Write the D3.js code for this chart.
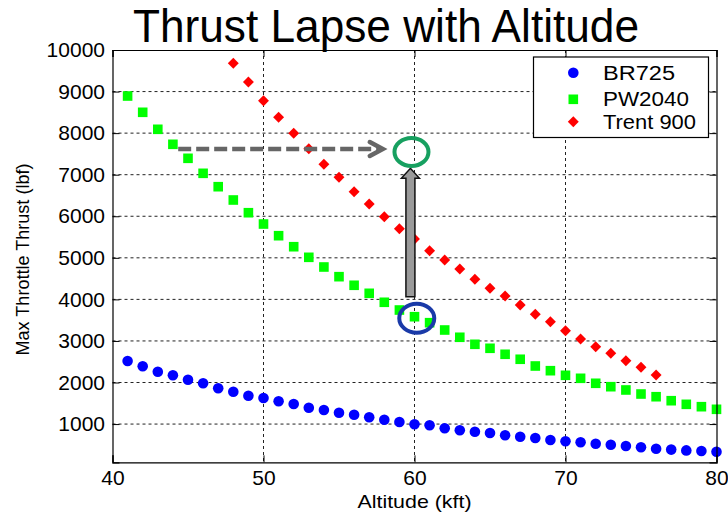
<!DOCTYPE html>
<html>
<head>
<meta charset="utf-8">
<script src="https://cdn.jsdelivr.net/npm/d3@7"></script>
<style>
  html, body { margin: 0; padding: 0; background: #fff; }
  svg { display: block; font-family: "Liberation Sans", Arial, Helvetica, sans-serif; }
</style>
</head>
<body>
<svg id="chart" width="728" height="512"></svg>
<script>
// ---- data ----
const chartTitle = "Thrust Lapse with Altitude";
const xLabel = "Altitude (kft)";
const yLabel = "Max Throttle Thrust (lbf)";
const xTicks = [40, 50, 60, 70, 80];
const yTicks = [1000, 2000, 3000, 4000, 5000, 6000, 7000, 8000, 9000, 10000];

const br725Alt = [41,42,43,44,45,46,47,48,49,50,51,52,53,54,55,56,57,58,59,60,
                  61,62,63,64,65,66,67,68,69,70,71,72,73,74,75,76,77,78,79,80];
const br725Thrust = [2517,2390,2260,2173,2067,1981,1860,1779,1682,1627,1548,1483,1394,1338,1273,1225,1163,1105,1050,997,
                     970,898,851,816,785,730,696,665,617,586,561,528,504,472,441,407,386,366,352,335];

const pw2040Alt = [41,42,43,44,45,46,47,48,49,50,51,52,53,54,55,56,57,58,59,60,
                   61,62,63,64,65,66,67,68,69,70,71,72,73,74,75,76,77,78,79,80];
const pw2040Thrust = [8893,8501,8092,7731,7394,7033,6711,6391,6085,5813,5532,5267,5012,4779,4546,4339,4146,3930,3744,3583,
                      3439,3263,3088,2919,2823,2679,2559,2397,2284,2173,2101,1981,1899,1820,1723,1658,1562,1475,1418,1355];

const trentAlt = [48,49,50,51,52,53,54,55,56,57,58,59,60,61,62,63,64,65,66,67,68,69,70,71,72,73,74,75,76];
const trentThrust = [9680,9230,8780,8381,7996,7625,7250,6937,6591,6295,5989,5700,5452,5169,4947,4731,4483,4266,4081,3865,
                     3641,3463,3246,3047,2861,2703,2524,2366,2180];

const seriesNames = ["BR725", "PW2040", "Trent 900"];
const seriesColors = ["#0000ff", "#00ff00", "#ff0000"];

// annotation anchors (data units)
const dashArrow = { x0: 44.35, x1: 57.9, y: 7618 };
const upArrow = { x: 59.73, y0: 4064, y1: 7154 };
const greenRing = { x: 59.8, y: 7546 };
const blueRing = { x: 60.15, y: 3545 };

// ---- layout ----
const svg = d3.select("#chart");
const L = 112.5, R = 716.5, T = 50, B = 462.3;
const x = d3.scaleLinear().domain([40, 80]).range([L, R]);
const y = d3.scaleLinear().domain([80, 10000]).range([B, T]);

// grid
const grid = svg.append("g");
grid.selectAll("line.gx").data(xTicks.filter(d => d > 40 && d < 80)).join("line")
  .attr("x1", d => x(d)).attr("x2", d => x(d)).attr("y1", T).attr("y2", B)
  .attr("stroke", "#222").attr("stroke-width", 1).attr("stroke-dasharray", "3,3");
grid.selectAll("line.gy").data(yTicks.filter(d => d < 10000)).join("line")
  .attr("x1", L).attr("x2", R).attr("y1", d => y(d)).attr("y2", d => y(d))
  .attr("stroke", "#222").attr("stroke-width", 1).attr("stroke-dasharray", "3,3");

// series markers
const mk = svg.append("g");
mk.selectAll("circle").data(br725Alt.map((a, i) => [a, br725Thrust[i]])).join("circle")
  .attr("cx", d => x(d[0])).attr("cy", d => y(d[1])).attr("r", 5.3)
  .attr("fill", seriesColors[0]);
const sq = 9.6;
mk.selectAll("rect").data(pw2040Alt.map((a, i) => [a, pw2040Thrust[i]])).join("rect")
  .attr("x", d => x(d[0]) - sq / 2).attr("y", d => y(d[1]) - sq / 2)
  .attr("width", sq).attr("height", sq).attr("fill", seriesColors[1]);
const diamond = d3.symbol().type(d3.symbolDiamond2).size(76);
mk.selectAll("path").data(trentAlt.map((a, i) => [a, trentThrust[i]])).join("path")
  .attr("d", diamond)
  .attr("transform", d => `translate(${x(d[0])},${y(d[1])})`)
  .attr("fill", seriesColors[2]);

// annotations
const ann = svg.append("g");
const dy0 = y(dashArrow.y);
ann.append("line")
  .attr("x1", x(dashArrow.x0)).attr("x2", x(dashArrow.x1) - 4).attr("y1", dy0).attr("y2", dy0)
  .attr("stroke", "#666").attr("stroke-width", 4.5).attr("stroke-dasharray", "13,5");
ann.append("path")
  .attr("d", `M${x(dashArrow.x1) - 13},${dy0 - 7} L${x(dashArrow.x1)},${dy0} L${x(dashArrow.x1) - 13},${dy0 + 7}`)
  .attr("fill", "none").attr("stroke", "#666").attr("stroke-width", 4.5)
  .attr("stroke-linejoin", "miter").attr("stroke-linecap", "round");
const ax = x(upArrow.x), ay0 = y(upArrow.y0), ay1 = y(upArrow.y1);
const sw = 4.5, hw = 9, hl = 10;
ann.append("path")
  .attr("d", `M${ax - sw},${ay0} L${ax - sw},${ay1 + hl} L${ax - hw},${ay1 + hl} L${ax},${ay1} L${ax + hw},${ay1 + hl} L${ax + sw},${ay1 + hl} L${ax + sw},${ay0} Z`)
  .attr("fill", "#9a9a9a").attr("stroke", "#111").attr("stroke-width", 1.5).attr("stroke-linejoin", "miter");
ann.append("ellipse").attr("cx", x(greenRing.x)).attr("cy", y(greenRing.y))
  .attr("rx", 17).attr("ry", 14).attr("fill", "none").attr("stroke", "#17a060").attr("stroke-width", 4);
ann.append("ellipse").attr("cx", x(blueRing.x)).attr("cy", y(blueRing.y))
  .attr("rx", 17.5).attr("ry", 14.5).attr("fill", "none").attr("stroke", "#1a3aa8").attr("stroke-width", 4);

// axes (ticks inward on all sides, box)
const tk = 7;
const fontTick = 21;
const gL = svg.append("g").attr("transform", `translate(${L},0)`)
  .call(d3.axisLeft(y).tickValues(yTicks).tickSize(-tk).tickPadding(7.5).tickFormat(d3.format("d")));
const gR = svg.append("g").attr("transform", `translate(${R},0)`)
  .call(d3.axisRight(y).tickValues(yTicks).tickSize(-tk).tickFormat(""));
const gB = svg.append("g").attr("transform", `translate(0,${B})`)
  .call(d3.axisBottom(x).tickValues(xTicks).tickSize(-tk).tickPadding(8).tickFormat(d3.format("d")));
const gT = svg.append("g").attr("transform", `translate(0,${T})`)
  .call(d3.axisTop(x).tickValues(xTicks).tickSize(-tk).tickFormat(""));
[gL, gR, gB, gT].forEach(g => {
  g.select(".domain").attr("stroke", "#000").attr("stroke-width", 1.2);
  g.selectAll(".tick line").attr("stroke", "#000").attr("stroke-width", 1);
  g.selectAll("text").attr("font-size", fontTick).attr("fill", "#000")
    .attr("font-family", "'Liberation Sans', Arial, sans-serif");
});

// title & labels
svg.append("text").attr("x", 133).attr("y", 42).attr("font-size", 46)
  .attr("textLength", 506).attr("lengthAdjust", "spacingAndGlyphs")
  .attr("fill", "#000").text(chartTitle);
svg.append("text").attr("x", 414.5).attr("y", 508).attr("text-anchor", "middle")
  .attr("font-size", 18.5).attr("textLength", 114).attr("lengthAdjust", "spacingAndGlyphs")
  .attr("fill", "#000").text(xLabel);
svg.append("text").attr("transform", `translate(29,${259.5}) rotate(-90)`).attr("text-anchor", "middle")
  .attr("font-size", 18).attr("textLength", 192).attr("lengthAdjust", "spacingAndGlyphs")
  .attr("fill", "#000").text(yLabel);

// legend
const lg = svg.append("g");
lg.append("rect").attr("x", 533.5).attr("y", 57).attr("width", 175).attr("height", 80.5)
  .attr("fill", "#fff").attr("stroke", "#000").attr("stroke-width", 1.2);
const legY = [72.7, 99.3, 121.7];
const legLen = [72, 86, 93];
const mX = 573.3;
lg.append("circle").attr("cx", mX).attr("cy", legY[0]).attr("r", 5.3).attr("fill", seriesColors[0]);
lg.append("rect").attr("x", mX - sq / 2).attr("y", legY[1] - sq / 2).attr("width", sq).attr("height", sq).attr("fill", seriesColors[1]);
lg.append("path").attr("d", diamond).attr("transform", `translate(${mX},${legY[2]})`).attr("fill", seriesColors[2]);
seriesNames.forEach((n, i) => {
  lg.append("text").attr("x", 603).attr("y", legY[i] + 7).attr("font-size", 19.5)
    .attr("textLength", legLen[i]).attr("lengthAdjust", "spacingAndGlyphs")
    .attr("fill", "#000").text(n);
});
</script>
</body>
</html>
